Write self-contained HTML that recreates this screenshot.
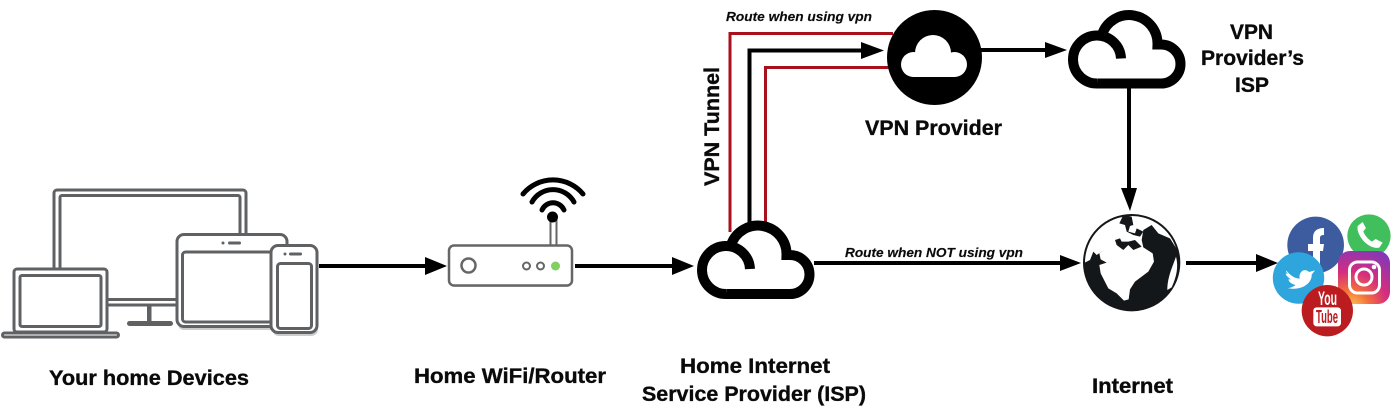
<!DOCTYPE html>
<html><head><meta charset="utf-8"><style>
html,body{margin:0;padding:0;background:#fff;width:1400px;height:412px;overflow:hidden}
svg{display:block}
text{font-family:"Liberation Sans",sans-serif;font-weight:bold;fill:#0a0a0a;stroke:#0a0a0a;stroke-width:.35}
.l{font-size:21px}.i{font-size:13px;font-style:italic;stroke-width:.15}
.g{fill:#fff;stroke:#5f6163;stroke-width:3}
</style></head><body>
<svg width="1400" height="412" viewBox="0 0 1400 412" xmlns="http://www.w3.org/2000/svg">
<defs>
<radialGradient id="ig" cx=".25" cy="1.1" r="1.2"><stop offset="0" stop-color="#fdd35a"/><stop offset=".3" stop-color="#f4703a"/><stop offset=".6" stop-color="#d52d7f"/><stop offset="1" stop-color="#8238b8"/></radialGradient>
<clipPath id="gc"><circle cx="155" cy="158" r="145"/></clipPath>
<path id="cl" d="M30 73H93A19.500 19.500 0 0 0 93 34H89.500A28.500 28.500 0 0 0 34 24M53 48A24 24 0 1 0 30 73" fill="#fff" stroke="#000" stroke-width="10"/>
</defs>
<!-- devices -->
<rect class="g" x="54" y="190" width="192" height="115" rx="3"/>
<rect class="g" x="60" y="195.500" width="180" height="104" rx="2"/>
<rect x="147" y="306" width="4.500" height="17" fill="#5f6163"/>
<rect x="127" y="321" width="46" height="5" rx="2.500" fill="#5f6163"/>
<rect class="g" x="14" y="269" width="93" height="63" rx="3"/>
<rect class="g" x="20" y="275.500" width="81" height="51" rx="2"/>
<rect class="g" x="2.500" y="333" width="116" height="4" rx="2"/>
<rect x="178" y="238" width="110" height="92" rx="6" fill="#ccc"/>
<rect class="g" x="177" y="234.500" width="110" height="92" rx="7"/>
<rect class="g" x="182.500" y="252" width="90" height="70" rx="3"/>
<rect x="272" y="248" width="46" height="88" rx="7" fill="#ccc"/>
<rect class="g" x="271" y="245.500" width="46" height="87" rx="7"/>
<rect class="g" x="277.500" y="263.500" width="34" height="65" rx="3"/>
<circle cx="223" cy="243" r="1.500" fill="#5f6163"/><rect x="228" y="241.500" width="13" height="3" rx="1.500" fill="#5f6163"/>
<circle cx="285" cy="254" r="1.500" fill="#5f6163"/><rect x="289" y="252.500" width="13" height="3" rx="1.500" fill="#5f6163"/>
<!-- router -->
<path d="M550.500 217V245M556.500 217V245" stroke="#666" stroke-width="2" fill="none"/>
<path d="M523 194A39 39 0 0 1 583 194M532 202A24 24 0 0 1 574 202M542 210A12 12 0 0 1 564 210" fill="none" stroke="#000" stroke-width="5" stroke-linecap="round"/>
<circle cx="552.500" cy="217" r="5.500" fill="#000"/>
<rect x="449" y="248" width="123" height="39" rx="5" fill="#d0d0d0"/>
<rect x="449" y="245.500" width="123" height="40" rx="5" fill="#fff" stroke="#666" stroke-width="2.500"/>
<circle cx="468.500" cy="265.500" r="7" fill="#fff" stroke="#666" stroke-width="2.500"/>
<circle cx="526.500" cy="266" r="3.500" fill="#fff" stroke="#666" stroke-width="2"/>
<circle cx="540.500" cy="266" r="3.500" fill="#fff" stroke="#666" stroke-width="2"/>
<circle cx="555.500" cy="266" r="4.500" fill="#82cf62"/>
<!-- tunnel -->
<path d="M730 232V33.500H893" fill="none" stroke="#a8101c" stroke-width="3"/>
<path d="M765.500 224V67.500H889" fill="none" stroke="#a8101c" stroke-width="3"/>
<path d="M749.500 223V50.500H865" fill="none" stroke="#000" stroke-width="4"/>
<polygon points="861,42 884,50.500 861,59"/>
<use href="#cl" x="697" y="221"/>
<!-- vpn provider -->
<circle cx="934.500" cy="57.500" r="47.500" fill="#000"/>
<g fill="#fff"><circle cx="913.500" cy="64.500" r="12.500"/><circle cx="933" cy="53" r="18"/><circle cx="954.500" cy="64.500" r="12.500"/><rect x="913" y="55" width="42" height="22"/></g>
<!-- arrows -->
<g stroke="#000" stroke-width="4" fill="none">
<path d="M319 266H428"/><path d="M575 266H675"/><path d="M814 263H1063"/>
<path d="M981 50H1048"/><path d="M1129 88V193"/><path d="M1186 263H1259"/>
</g>
<polygon points="425,257 447,266 425,275"/>
<polygon points="672,257 694,266 672,275"/>
<polygon points="1060,255 1081,263 1060,271"/>
<polygon points="1045,42 1067,50 1045,58"/>
<polygon points="1121,188 1137,188 1130,211"/>
<polygon points="1256,254 1278,263 1256,272"/>
<use href="#cl" x="1068" y="10.500"/>
<!-- globe -->
<g transform="translate(1080 210) scale(.3333)">
<circle cx="155" cy="158" r="143" fill="#fff" stroke="#14171a" stroke-width="6"/>
<g clip-path="url(#gc)">
<path fill="#14171a" d="M0 162L14 158L30 150L40 125L50 135L75 118L58 130L62 148L80 158L58 165L62 190L85 235L110 250L132 272L146 268L150 238L165 215L205 185L222 155L218 130L190 112L185 90L190 60L215 45L235 70L270 85L295 125L310 150V320H0Z"/>
<path fill="#fff" d="M288 140C280 165 262 200 262 240L275 232C290 200 296 170 288 140Z"/>
<path fill="#14171a" d="M105 90L120 85L125 95L145 95L165 90L185 110L160 120L145 105L130 120L110 105Z"/>
<path fill="#14171a" d="M118 40L130 15L155 20L160 45L150 48L145 65L165 70L170 55L190 65L180 80L160 75L140 65L135 45Z"/>
</g>
</g>
<!-- social -->
<g transform="translate(1060 190) scale(.3333)">
<circle cx="927" cy="135" r="78" fill="#fff"/>
<circle cx="927" cy="138" r="65" fill="#41bf5c"/>
<path d="M893 108C888 135 925 180 958 173L968 158L947 147L936 155C925 148 914 136 910 124L918 114L908 96Z" fill="#fff"/>
<circle cx="767" cy="165" r="85" fill="#3d5c9f"/>
</g>
<path d="M1313 268V251H1308V244H1313V238C1313 231 1317 228 1324 228V235C1321 235 1320 236 1320 238V244H1324L1323 251H1320V268Z" fill="#fff"/>
<rect x="1338" y="251" width="52" height="53" rx="12" fill="url(#ig)"/>
<rect x="1349.500" y="262" width="30" height="31" rx="8" fill="none" stroke="#fff" stroke-width="3"/>
<circle cx="1364" cy="277" r="8" fill="none" stroke="#fff" stroke-width="3"/>
<circle cx="1374" cy="267" r="2.300" fill="#fff"/>
<circle cx="1298.500" cy="278" r="25.700" fill="#2ea6dd"/>
<g transform="translate(1265 208) scale(.3333)">
<path d="M64 188C78 205 92 212 104 212C100 192 118 178 132 192L150 187L140 200C142 225 110 250 68 240C78 240 85 236 92 231C80 228 72 222 70 214L78 214C68 208 62 200 62 196L70 198C64 194 62 190 64 188Z" fill="#fff"/>
<circle cx="187" cy="308" r="77" fill="#bb1c20"/>
<rect x="145" y="298" width="83" height="57" rx="10" fill="#fff"/>
</g>
<text x="1318" y="305" font-size="19" textLength="19" lengthAdjust="spacingAndGlyphs" style="fill:#fff;stroke:none">You</text>
<text x="1316" y="323" font-size="18" textLength="22" lengthAdjust="spacingAndGlyphs" style="fill:#bb1c20;stroke:none">Tube</text>
<!-- labels -->
<text class="l" x="49" y="385" textLength="200" lengthAdjust="spacingAndGlyphs">Your home Devices</text>
<text class="l" x="414" y="383" textLength="192" lengthAdjust="spacingAndGlyphs">Home WiFi/Router</text>
<text class="l" x="680" y="373" textLength="150" lengthAdjust="spacingAndGlyphs">Home Internet</text>
<text class="l" x="642" y="401" textLength="224" lengthAdjust="spacingAndGlyphs">Service Provider (ISP)</text>
<text class="l" x="1092" y="393" textLength="81" lengthAdjust="spacingAndGlyphs">Internet</text>
<text class="l" x="865" y="135" textLength="137" lengthAdjust="spacingAndGlyphs">VPN Provider</text>
<text class="l" x="1230" y="39" textLength="43" lengthAdjust="spacingAndGlyphs">VPN</text>
<text class="l" x="1201" y="65" textLength="103" lengthAdjust="spacingAndGlyphs">Provider’s</text>
<text class="l" x="1235" y="92" textLength="34" lengthAdjust="spacingAndGlyphs">ISP</text>
<text class="l" transform="translate(719 186) rotate(-90)" textLength="119" lengthAdjust="spacingAndGlyphs">VPN Tunnel</text>
<text class="i" x="726" y="21" textLength="146" lengthAdjust="spacingAndGlyphs">Route when using vpn</text>
<text class="i" x="845" y="257" textLength="178" lengthAdjust="spacingAndGlyphs">Route when NOT using vpn</text>
</svg>
</body></html>
